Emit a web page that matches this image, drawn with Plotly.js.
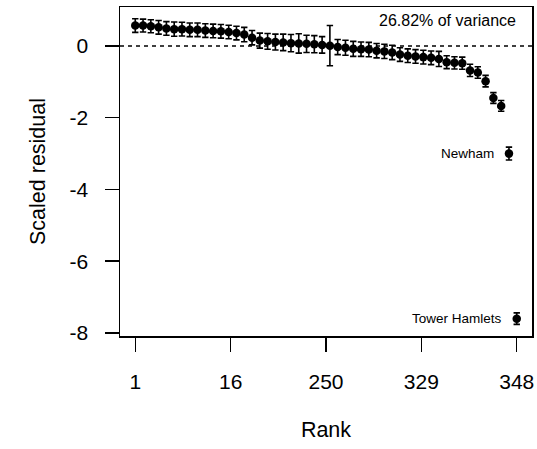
<!DOCTYPE html>
<html>
<head>
<meta charset="utf-8">
<script src="https://cdn.plot.ly/plotly-3.0.1.min.js"></script>
<style>html,body{margin:0;padding:0;background:#fff;}#chart{width:537px;height:449px;}</style>
</head>
<body>
<div id="chart"></div>
<script>
// Position of each plotted area (1..50) and its scaled residual
var positions = [];
for (var i = 1; i <= 50; i++) positions.push(i);
var residuals = [0.57, 0.57, 0.55, 0.52, 0.49, 0.47, 0.47, 0.45, 0.45, 0.43,
                 0.42, 0.41, 0.39, 0.36, 0.32, 0.23, 0.15, 0.13, 0.11, 0.10,
                 0.08, 0.07, 0.06, 0.05, 0.03, 0.01, -0.03, -0.05, -0.08, -0.09,
                 -0.10, -0.13, -0.15, -0.18, -0.24, -0.27, -0.29, -0.31, -0.33, -0.36,
                 -0.45, -0.47, -0.48, -0.68, -0.74, -0.98, -1.45, -1.67, -3.00, -7.60];
var errors = [0.19, 0.18, 0.18, 0.19, 0.19, 0.20, 0.19, 0.19, 0.19, 0.19,
              0.19, 0.19, 0.19, 0.19, 0.20, 0.20, 0.21, 0.22, 0.22, 0.23,
              0.24, 0.27, 0.24, 0.24, 0.23, 0.56, 0.21, 0.21, 0.21, 0.20,
              0.20, 0.20, 0.20, 0.20, 0.19, 0.19, 0.19, 0.19, 0.19, 0.21,
              0.18, 0.17, 0.17, 0.17, 0.16, 0.16, 0.15, 0.15, 0.18, 0.16];
var tickPositions = [1, 13.25, 25.5, 37.75, 50];
var tickLabels = ["1", "16", "250", "329", "348"];
var labelledIndex = [49, 50];
var labelledNames = ["Newham", "Tower Hamlets"];
var varianceText = "26.82% of variance";

var font = "Liberation Sans, Arial, Helvetica, sans-serif";

var trace = {
  x: positions, y: residuals, type: "scatter", mode: "markers",
  marker: {color: "#000", size: 8.5},
  error_y: {type: "data", array: errors, visible: true, color: "#000", thickness: 1.6, width: 3.2},
  hoverinfo: "none", showlegend: false
};

var annotations = [];
for (var k = 0; k < labelledIndex.length; k++) {
  annotations.push({
    x: labelledIndex[k], y: residuals[labelledIndex[k] - 1], xref: "x", yref: "y",
    text: labelledNames[k], showarrow: false, xanchor: "right", yanchor: "middle",
    xshift: -13, font: {family: font, size: 13.5, color: "#000"}
  });
}
annotations.push({
  x: 0.966, y: 0.958, xref: "paper", yref: "paper", text: varianceText,
  showarrow: false, xanchor: "right", yanchor: "middle",
  font: {family: font, size: 16, color: "#000"}
});

var layout = {
  width: 537, height: 449,
  margin: {l: 120, r: 5, t: 7, b: 113, pad: 0},
  paper_bgcolor: "#fff", plot_bgcolor: "#fff",
  font: {family: font, color: "#000"},
  showlegend: false,
  xaxis: {
    range: [-0.96, 51.96], tickmode: "array", tickvals: tickPositions, ticktext: tickLabels,
    ticks: "outside", ticklen: 14, tickwidth: 1.5, tickcolor: "#000",
    showline: true, linecolor: "#000", linewidth: 1.5, mirror: true,
    showgrid: false, zeroline: false, ticklabelstandoff: 12,
    tickfont: {family: font, size: 21, color: "#000"},
    title: {text: "Rank", font: {family: font, size: 21.5, color: "#000"}, standoff: 30},
    automargin: false
  },
  yaxis: {
    range: [-8.084, 1.087], tickmode: "array", tickvals: [0, -2, -4, -6, -8],
    ticktext: ["0", "-2", "-4", "-6", "-8"],
    ticks: "outside", ticklen: 14, tickwidth: 1.5, tickcolor: "#000",
    showline: true, linecolor: "#000", linewidth: 1.5, mirror: true,
    showgrid: false, zeroline: false, ticklabelstandoff: 12,
    tickfont: {family: font, size: 21, color: "#000"},
    title: {text: "Scaled residual", font: {family: font, size: 21.5, color: "#000"}, standoff: 18},
    automargin: false
  },
  shapes: [{
    type: "line", xref: "paper", yref: "y", x0: 0, x1: 1, y0: 0, y1: 0,
    line: {color: "#000", width: 1.5, dash: "4px,4px"}
  }],
  annotations: annotations
};

Plotly.newPlot("chart", [trace], layout, {displayModeBar: false, staticPlot: true});
</script>
</body>
</html>
